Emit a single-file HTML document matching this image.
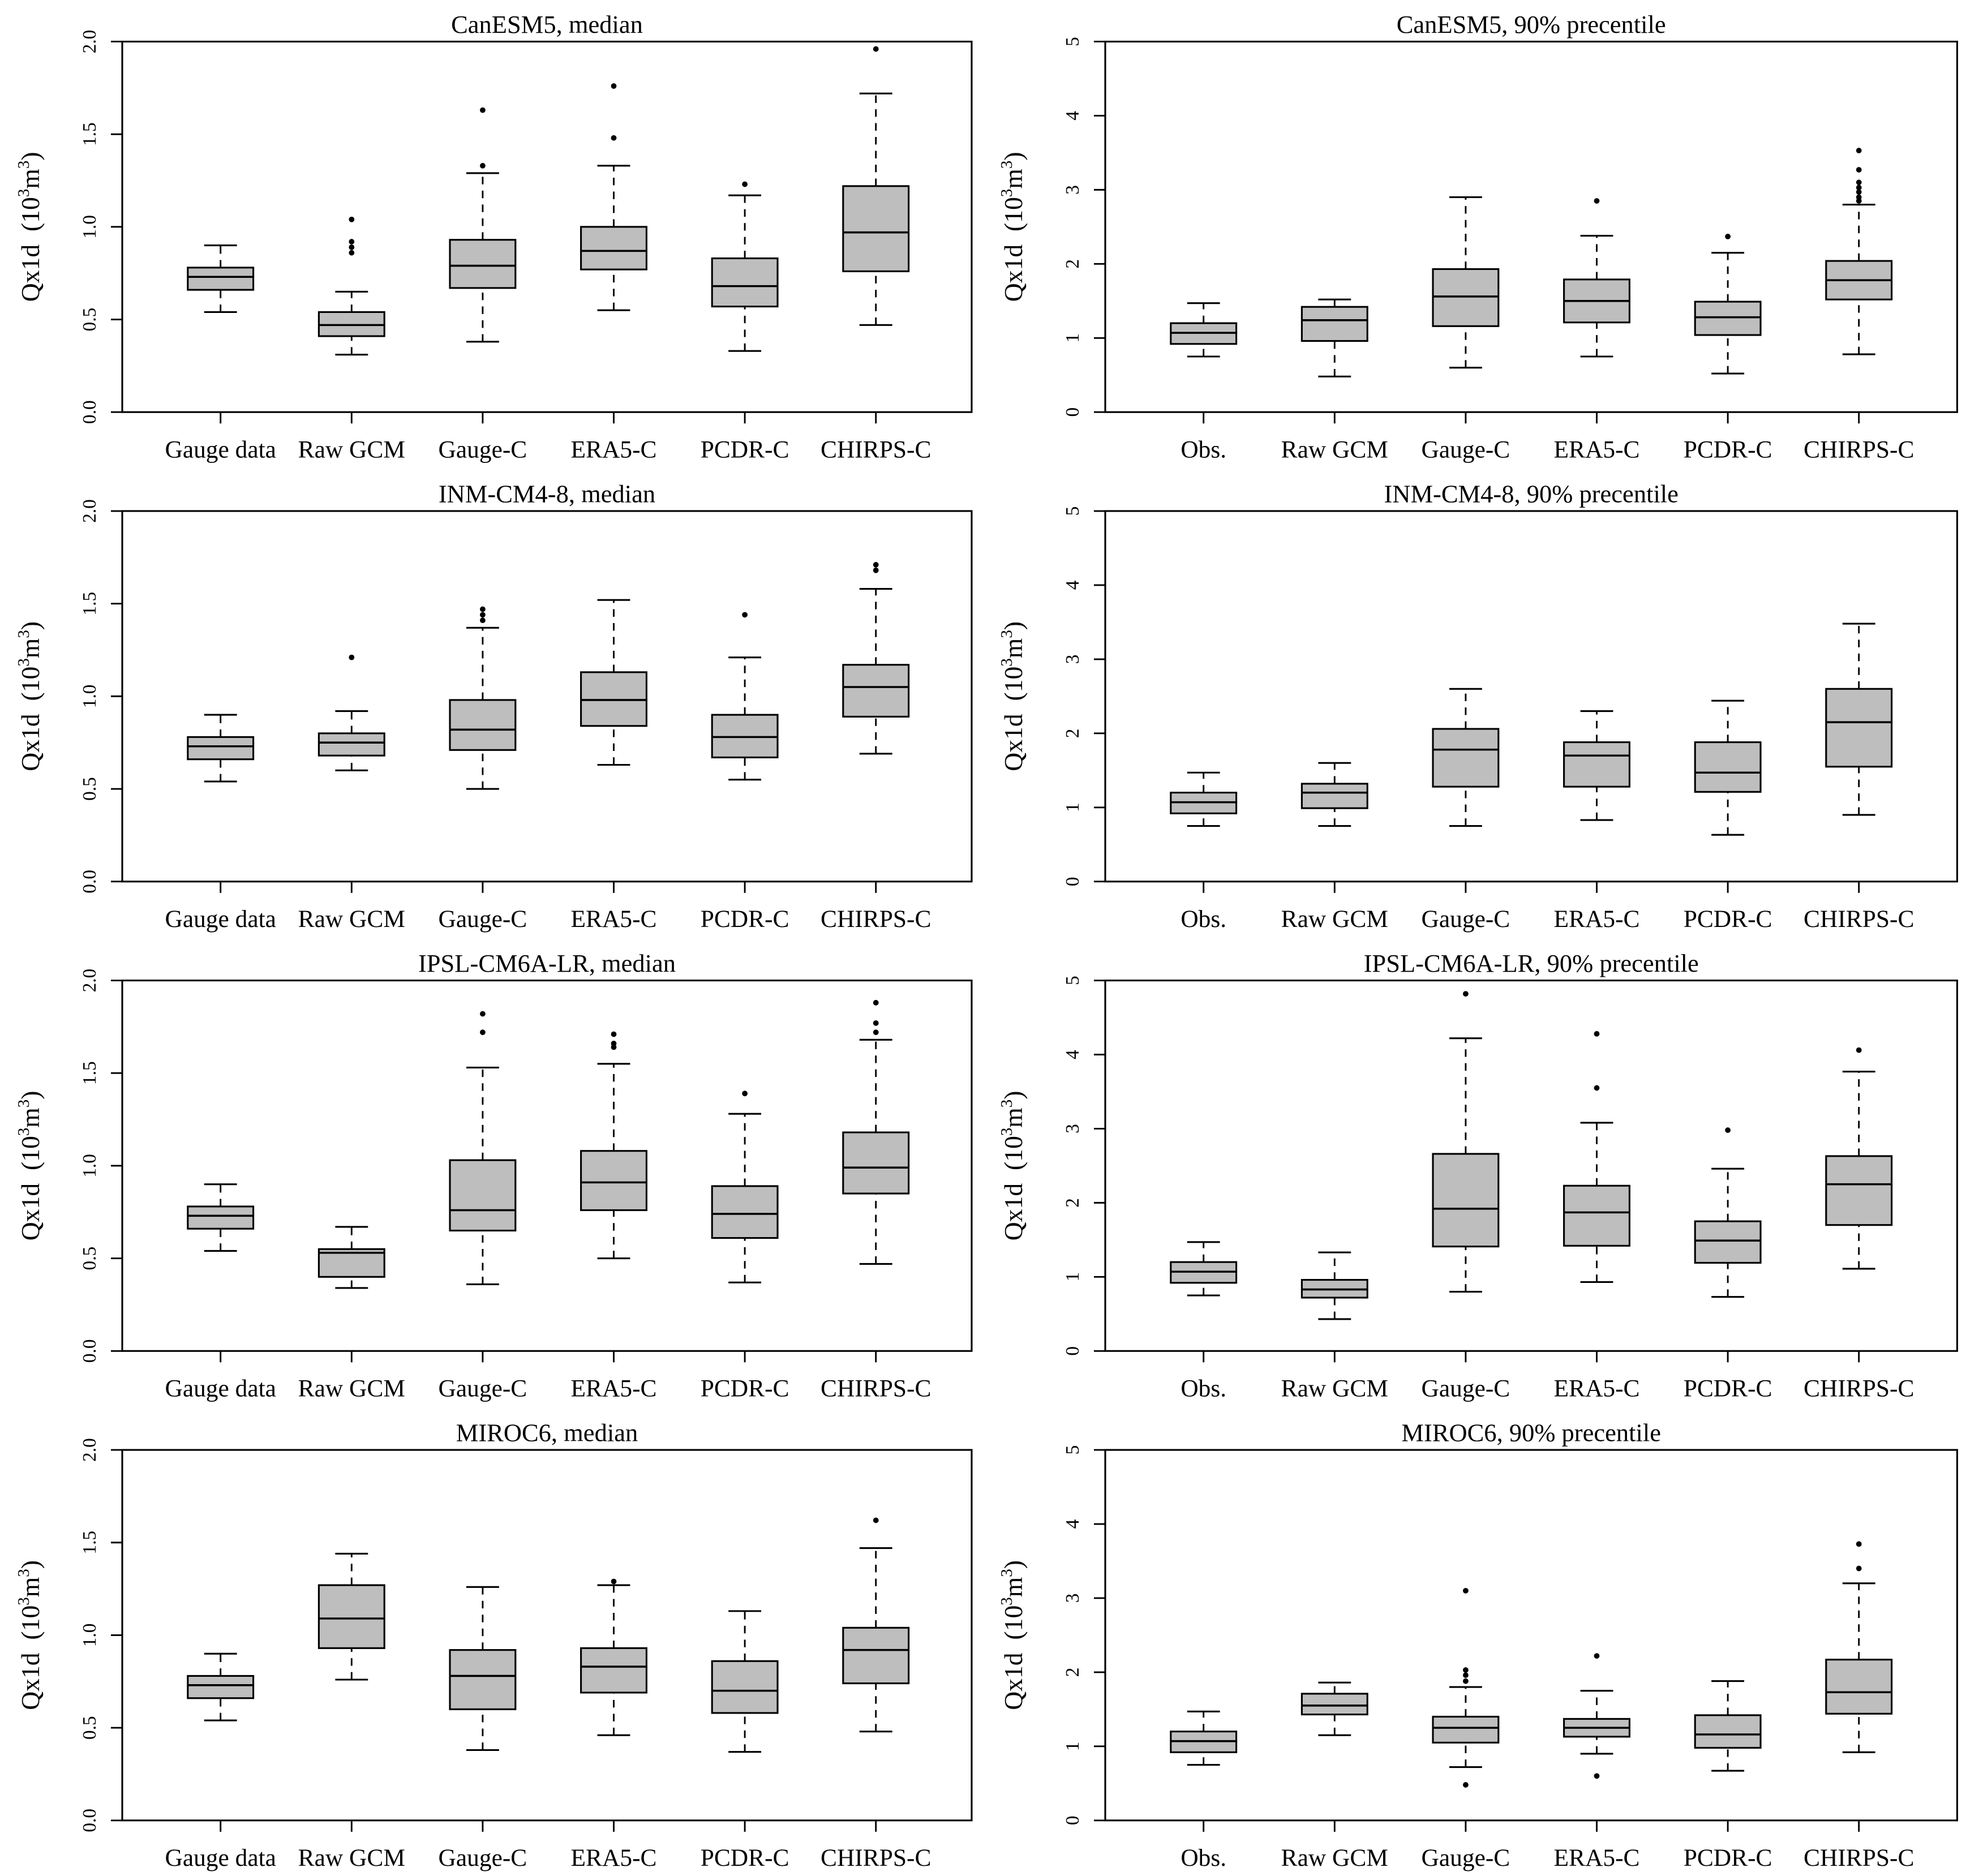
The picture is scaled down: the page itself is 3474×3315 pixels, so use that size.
<!DOCTYPE html>
<html><head><meta charset="utf-8"><style>
html,body{margin:0;padding:0;background:#fff;}
svg{display:block;}
text{font-family:"Liberation Serif",serif;fill:#000;}
</style></head>
<body>
<svg id="fig" width="3474" height="3315" viewBox="0 0 1560 1488.6" xmlns="http://www.w3.org/2000/svg"></svg>
<script>
// category labels
const catsLeft = ["Gauge data","Raw GCM","Gauge-C","ERA5-C","PCDR-C","CHIRPS-C"];
const catsRight = ["Obs.","Raw GCM","Gauge-C","ERA5-C","PCDR-C","CHIRPS-C"];
const ticksLeft = ["0.0","0.5","1.0","1.5","2.0"];
const ticksRight = ["0","1","2","3","4","5"];
const titles = ["CanESM5, median","CanESM5, 90% precentile","INM-CM4-8, median","INM-CM4-8, 90% precentile",
  "IPSL-CM6A-LR, median","IPSL-CM6A-LR, 90% precentile","MIROC6, median","MIROC6, 90% precentile"];
// box stats: [lowWhisker, q1, median, q3, highWhisker]
const stats1L = [[0.54,0.66,0.73,0.78,0.90],[0.31,0.41,0.47,0.54,0.65],[0.38,0.67,0.79,0.93,1.29],[0.55,0.77,0.87,1.00,1.33],[0.33,0.57,0.68,0.83,1.17],[0.47,0.76,0.97,1.22,1.72]];
const out1L = [[],[0.86,0.89,0.92,1.04],[1.33,1.63],[1.48,1.76],[1.23],[1.96]];
const stats1R = [[0.75,0.92,1.07,1.20,1.47],[0.48,0.96,1.24,1.42,1.52],[0.60,1.16,1.56,1.93,2.90],[0.75,1.21,1.50,1.79,2.38],[0.52,1.04,1.28,1.49,2.15],[0.78,1.52,1.78,2.04,2.80]];
const out1R = [[],[],[],[2.85],[2.37],[2.85,2.90,2.97,3.03,3.10,3.27,3.53]];
const stats2L = [[0.54,0.66,0.73,0.78,0.90],[0.60,0.68,0.75,0.80,0.92],[0.50,0.71,0.82,0.98,1.37],[0.63,0.84,0.98,1.13,1.52],[0.55,0.67,0.78,0.90,1.21],[0.69,0.89,1.05,1.17,1.58]];
const out2L = [[],[1.21],[1.41,1.44,1.47],[],[1.44],[1.68,1.71]];
const stats2R = [[0.75,0.92,1.07,1.20,1.47],[0.75,0.99,1.20,1.32,1.60],[0.75,1.28,1.78,2.06,2.60],[0.83,1.28,1.70,1.88,2.30],[0.63,1.21,1.47,1.88,2.44],[0.90,1.55,2.15,2.60,3.48]];
const out2R = [[],[],[],[],[],[]];
const stats3L = [[0.54,0.66,0.73,0.78,0.90],[0.34,0.40,0.53,0.55,0.67],[0.36,0.65,0.76,1.03,1.53],[0.50,0.76,0.91,1.08,1.55],[0.37,0.61,0.74,0.89,1.28],[0.47,0.85,0.99,1.18,1.68]];
const out3L = [[],[],[1.72,1.82],[1.64,1.66,1.71],[1.39],[1.72,1.77,1.88]];
const stats3R = [[0.75,0.92,1.07,1.20,1.47],[0.43,0.72,0.83,0.96,1.33],[0.80,1.41,1.92,2.66,4.22],[0.93,1.42,1.87,2.23,3.08],[0.73,1.19,1.49,1.75,2.46],[1.11,1.70,2.25,2.63,3.77]];
const out3R = [[],[],[4.82],[3.55,4.28],[2.98],[4.06]];
const stats4L = [[0.54,0.66,0.73,0.78,0.90],[0.76,0.93,1.09,1.27,1.44],[0.38,0.60,0.78,0.92,1.26],[0.46,0.69,0.83,0.93,1.27],[0.37,0.58,0.70,0.86,1.13],[0.48,0.74,0.92,1.04,1.47]];
const out4L = [[],[],[],[1.29],[],[1.62]];
const stats4R = [[0.75,0.92,1.07,1.20,1.47],[1.15,1.43,1.55,1.71,1.86],[0.72,1.05,1.25,1.40,1.80],[0.90,1.13,1.25,1.37,1.75],[0.67,0.98,1.16,1.42,1.88],[0.92,1.44,1.73,2.17,3.20]];
const out4R = [[],[],[0.48,1.88,1.96,2.03,3.10],[0.60,2.22],[],[3.40,3.73]];

const panelStats = [stats1L,stats1R,stats2L,stats2R,stats3L,stats3R,stats4L,stats4R];
const panelOut = [out1L,out1R,out2L,out2R,out3L,out3R,out4L,out4R];

const NS="http://www.w3.org/2000/svg";
const svg=document.getElementById('fig');
function mk(tag,attrs,parent){const e=document.createElementNS(NS,tag);for(const k in attrs)e.setAttribute(k,attrs[k]);(parent||svg).appendChild(e);return e;}

for(let p=0;p<8;p++){
  const row=Math.floor(p/2), right=p%2===1;
  const x0=right?877:97, x1=right?1553:771;
  const yTop=33+row*372.5, yBot=yTop+294;
  const ymax=right?5:2;
  const cats=right?catsRight:catsLeft;
  const ticks=right?ticksRight:ticksLeft;
  const ys=v=>yBot-(v/ymax)*294;
  const xs=i=>x0+78+i*104;
  const g=mk('g',{});
  
  
  const t=mk('text',{x:(x0+x1)/2,y:yTop-7,'text-anchor':'middle','font-size':20},g);
  t.textContent=titles[p];
  
  
  const fr=mk('rect',{x:x0,y:yTop,width:x1-x0,height:294,fill:'none',stroke:'#000','stroke-width':1.4},g);
  
  
  ticks.forEach(tk=>{
    const v=parseFloat(tk), y=ys(v);
    mk('line',{x1:x0-9,x2:x0,y1:y,y2:y,stroke:'#000','stroke-width':1.3},g);
    const tl=mk('text',{x:0,y:0,'text-anchor':'middle','font-size':15,transform:`translate(${x0-21},${y}) rotate(-90)`},g);
    tl.textContent=tk;
    
    
  });
  const yt=mk('text',{x:0,y:0,'text-anchor':'middle','font-size':20.5,transform:`translate(${x0-66},${yTop+147}) rotate(-90)`},g);
  yt.innerHTML='Qx1d&#160;&#160;(10<tspan font-size="13" dy="-8">3</tspan><tspan dy="8">m</tspan><tspan font-size="13" dy="-8">3</tspan><tspan dy="8">)</tspan>';
  
  
  const st=panelStats[p], ou=panelOut[p];
  cats.forEach((c,i)=>{
    const cx=xs(i);
    mk('line',{x1:cx,x2:cx,y1:yBot,y2:yBot+9,stroke:'#000','stroke-width':1.3},g);
    const xl=mk('text',{x:cx,y:yBot+36,'text-anchor':'middle','font-size':19.5},g);
    xl.textContent=c;
    
    
    const s=st[i];
    const bg=mk('g',{},g);
    
    
    mk('line',{x1:cx,x2:cx,y1:ys(s[0]),y2:ys(s[1]),stroke:'#000','stroke-width':1.3,'stroke-dasharray':'6,5'},bg);
    mk('line',{x1:cx,x2:cx,y1:ys(s[3]),y2:ys(s[4]),stroke:'#000','stroke-width':1.3,'stroke-dasharray':'6,5'},bg);
    mk('line',{x1:cx-13,x2:cx+13,y1:ys(s[0]),y2:ys(s[0]),stroke:'#000','stroke-width':1.4},bg);
    mk('line',{x1:cx-13,x2:cx+13,y1:ys(s[4]),y2:ys(s[4]),stroke:'#000','stroke-width':1.4},bg);
    mk('rect',{x:cx-26,y:ys(s[3]),width:52,height:ys(s[1])-ys(s[3]),fill:'#bebebe',stroke:'#000','stroke-width':1.4},bg);
    mk('line',{x1:cx-26,x2:cx+26,y1:ys(s[2]),y2:ys(s[2]),stroke:'#000','stroke-width':1.6},bg);
    ou[i].forEach(v=>{
      const d=mk('circle',{cx:cx,cy:ys(v),r:2.2,fill:'#000'},bg);
      
      
    });
  });
}
</script>
</body></html>
